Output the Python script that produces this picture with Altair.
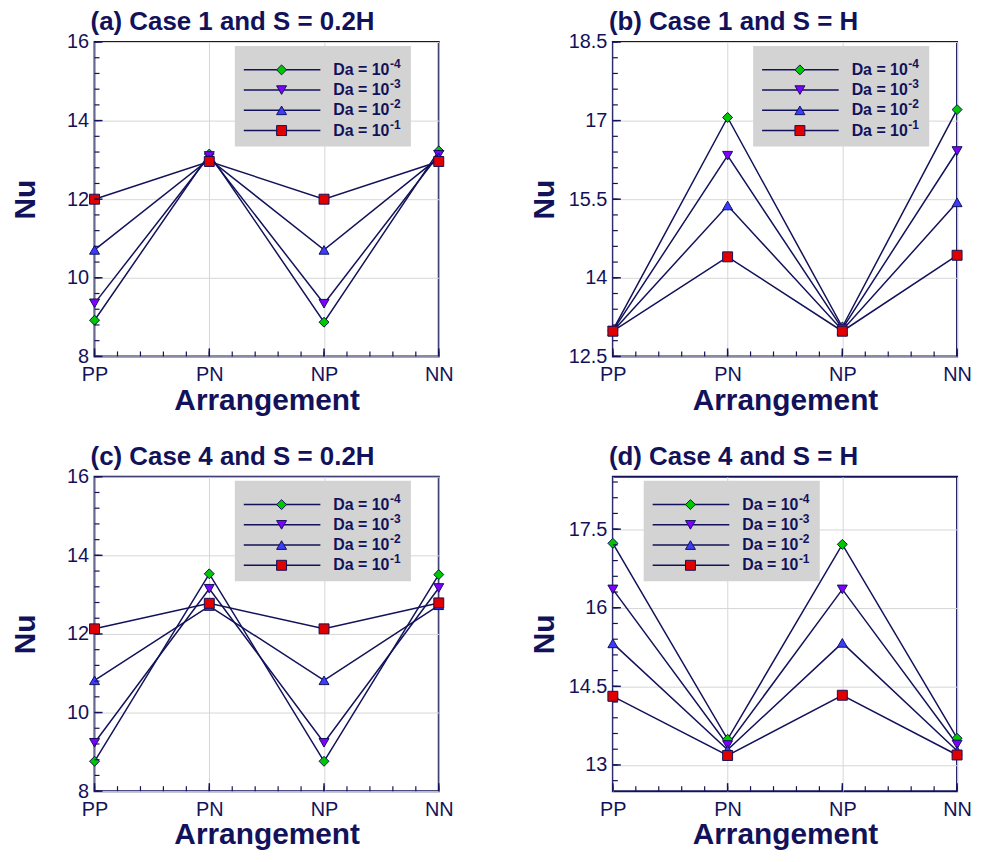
import json
import altair as alt
import numpy as np
import pandas as pd

NAVY = "#12125a"
FONT = "Liberation Sans"

arrangements = ["PP", "PN", "NP", "NN"]
da_exponents = ["-4", "-3", "-2", "-1"]
marker_shapes = ["diamond", "triangle-down", "triangle-up", "square"]
marker_colors = ["#00c800", "#8000ff", "#3c3cff", "#e00000"]

# Nu values, one list per Darcy number (rows: Da = 1e-4, 1e-3, 1e-2, 1e-1), columns PP, PN, NP, NN
nu_a = [[8.92, 13.15, 8.87, 13.23],
        [9.35, 13.10, 9.34, 13.13],
        [10.71, 13.02, 10.71, 13.06],
        [12.00, 12.96, 12.00, 12.96]]
nu_b = [[13.00, 17.06, 13.06, 17.21],
        [12.99, 16.33, 13.03, 16.42],
        [12.98, 15.38, 13.00, 15.44],
        [12.98, 14.40, 12.98, 14.43]]
nu_c = [[8.76, 13.53, 8.76, 13.51],
        [9.23, 13.15, 9.23, 13.17],
        [10.82, 12.71, 10.82, 12.73],
        [12.13, 12.78, 12.13, 12.79]]
nu_d = [[17.23, 13.49, 17.21, 13.51],
        [16.35, 13.38, 16.35, 13.39],
        [15.32, 13.29, 15.33, 13.27],
        [14.31, 13.18, 14.33, 13.19]]

titles = ["(a) Case 1 and S = 0.2H", "(b) Case 1 and S = H",
          "(c) Case 4 and S = 0.2H", "(d) Case 4 and S = H"]
ticks_a = [8, 10, 12, 14, 16]
ticks_b = [12.5, 14, 15.5, 17, 18.5]
ticks_d = [13, 14.5, 16, 17.5]

W, H = 346, 316
label_expr = json.dumps(arrangements) + "[datum.value]"


def panel(title, nu, ydom, yticks, minor_start, minor_step, legend_dx, title_offset):
    rows = []
    for da, vals in zip(da_exponents, nu):
        for i, (arr, v) in enumerate(zip(arrangements, vals)):
            rows.append({"xi": i, "arr": arr, "da": da, "nu": v})
    df = pd.DataFrame(rows)

    xs = alt.Scale(domain=[0, 3], nice=False, zero=False)
    ys = alt.Scale(domain=ydom, nice=False, zero=False)
    xaxis = alt.Axis(values=[0, 1, 2, 3], labelExpr=label_expr, title="Arrangement",
                     grid=True, labelFlush=False, labelPadding=8,
                     titleBaseline="alphabetic", titleY=53, titleX=W / 2)
    yaxis = alt.Axis(values=yticks, labelExpr="toString(datum.value)", title="Nu",
                     grid=True, labelPadding=6, titleBaseline="alphabetic",
                     titleAngle=270, titleX=-60, titleY=H / 2)
    cs = alt.Scale(domain=da_exponents, range=marker_colors)
    ss = alt.Scale(domain=da_exponents, range=marker_shapes)

    X = alt.X("xi:Q", scale=xs, axis=xaxis)
    Y = alt.Y("nu:Q", scale=ys, axis=yaxis)

    base = alt.Chart(df)
    lines = base.mark_line(color=NAVY, strokeWidth=1.5).encode(
        x=X, y=Y, detail="da:N", order="xi:Q")
    points = base.mark_point(filled=True, size=100, stroke=NAVY, strokeWidth=1,
                             opacity=1).encode(
        x=X, y=Y,
        shape=alt.Shape("da:N", scale=ss, legend=None),
        fill=alt.Fill("da:N", scale=cs, legend=None))

    ymaj = pd.DataFrame({"nu": yticks})
    yminor = pd.DataFrame({"nu": np.arange(minor_start, ydom[1] + 1e-9, minor_step)})
    xmaj = pd.DataFrame({"xi": [0, 1, 2, 3]})
    xminor = pd.DataFrame({"xi": np.arange(0, 3 + 1e-9, 0.2)})

    ymaj_t = alt.Chart(ymaj).mark_rule(color=NAVY, strokeWidth=1.5).encode(
        y=Y, x=alt.value(0), x2=alt.value(8))
    ymin_t = alt.Chart(yminor).mark_rule(color=NAVY, strokeWidth=1.2).encode(
        y=Y, x=alt.value(0), x2=alt.value(5))
    xmaj_t = alt.Chart(xmaj).mark_rule(color=NAVY, strokeWidth=1.5).encode(
        x=X, y=alt.value(H), y2=alt.value(H - 8))
    xmin_t = alt.Chart(xminor).mark_rule(color=NAVY, strokeWidth=1.2).encode(
        x=X, y=alt.value(H), y2=alt.value(H - 5))

    main = alt.layer(lines, points, ymaj_t, ymin_t, xmaj_t, xmin_t)

    # legend
    leg = pd.DataFrame({"row": [0, 1, 2, 3], "da": da_exponents,
                        "lab": ["Da = 10"] * 4})
    rs = alt.Scale(domain=[0, 3], range=[28, 89])
    R = alt.Y("row:Q", scale=rs, axis=None)
    lb = alt.Chart(pd.DataFrame({"a": [0]})).mark_rect(color="#d3d3d3").encode(
        x=alt.value(141 + legend_dx), x2=alt.value(318 + legend_dx),
        y=alt.value(4), y2=alt.value(105))
    lbase = alt.Chart(leg)
    lline = lbase.mark_rule(color=NAVY, strokeWidth=1.5).encode(
        y=R, x=alt.value(150 + legend_dx), x2=alt.value(227 + legend_dx))
    lpt = lbase.mark_point(filled=True, size=100, stroke=NAVY, strokeWidth=1,
                           opacity=1).encode(
        y=R, x=alt.value(188 + legend_dx),
        shape=alt.Shape("da:N", scale=ss, legend=None),
        fill=alt.Fill("da:N", scale=cs, legend=None))
    ltxt = lbase.mark_text(align="left", baseline="middle", font=FONT,
                           fontSize=16, fontWeight="bold", color=NAVY).encode(
        y=R, x=alt.value(240 + legend_dx), text="lab:N")
    lsup = lbase.mark_text(align="left", baseline="middle", font=FONT,
                           fontSize=12, fontWeight="bold", color=NAVY, dy=-6).encode(
        y=R, x=alt.value(297 + legend_dx), text="da:N")
    legend = alt.layer(lb, lline, lpt, ltxt, lsup)

    return alt.layer(main, legend).resolve_scale(y="independent").properties(
        width=W, height=H,
        title=alt.TitleParams(title, anchor="start", frame="group", fontSize=26,
                              fontWeight="bold", font=FONT, color=NAVY, dx=-4,
                              offset=title_offset))


pa = panel(titles[0], nu_a, [8, 16], ticks_a, 8, 0.4, 0, -3)
pb = panel(titles[1], nu_b, [12.5, 18.5], ticks_b, 12.5, 0.3, 0, -3)
pc = panel(titles[2], nu_c, [8, 16], ticks_a, 8, 0.4, 0, -3)
pd_ = panel(titles[3], nu_d, [12.5, 18.5], ticks_d, 12.7, 0.3, -110, 7)

chart = alt.vconcat(
    alt.hconcat(pa, pb, spacing=74),
    alt.hconcat(pc, pd_, spacing=74),
    spacing=27,
).properties(padding={"left": 2, "top": -2, "right": 0, "bottom": 0}).configure_view(
    stroke=NAVY, strokeWidth=2
).configure_axis(
    labelFont=FONT, labelFontSize=20, labelColor=NAVY,
    titleFont=FONT, titleFontSize=30, titleFontWeight="bold", titleColor=NAVY,
    gridColor="#d6d6d6", gridWidth=1, domain=False, ticks=False, tickSize=0
)

chart.save("out.html", embed_options={"renderer": "svg", "actions": False})
